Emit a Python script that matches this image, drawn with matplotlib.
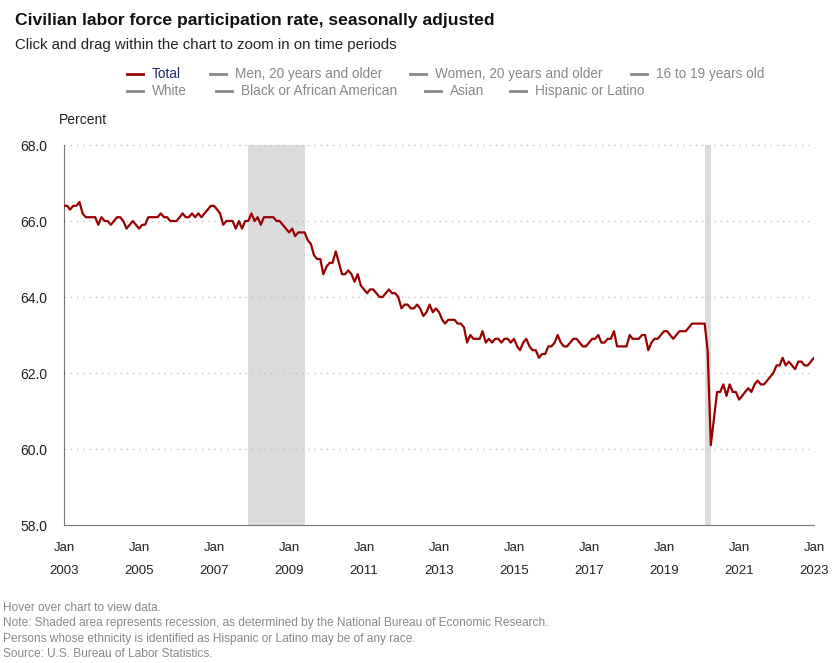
import matplotlib
matplotlib.use('Agg')
import matplotlib.pyplot as plt
import pandas as pd
from matplotlib.lines import Line2D

plt.rcParams['font.family'] = ['Liberation Sans', 'DejaVu Sans']

# monthly rate, Jan 2003 .. Jan 2023
rate_2003 = [66.4, 66.4, 66.3, 66.4, 66.4, 66.5, 66.2, 66.1, 66.1, 66.1, 66.1, 65.9]
rate_2004 = [66.1, 66.0, 66.0, 65.9, 66.0, 66.1, 66.1, 66.0, 65.8, 65.9, 66.0, 65.9]
rate_2005 = [65.8, 65.9, 65.9, 66.1, 66.1, 66.1, 66.1, 66.2, 66.1, 66.1, 66.0, 66.0]
rate_2006 = [66.0, 66.1, 66.2, 66.1, 66.1, 66.2, 66.1, 66.2, 66.1, 66.2, 66.3, 66.4]
rate_2007 = [66.4, 66.3, 66.2, 65.9, 66.0, 66.0, 66.0, 65.8, 66.0, 65.8, 66.0, 66.0]
rate_2008 = [66.2, 66.0, 66.1, 65.9, 66.1, 66.1, 66.1, 66.1, 66.0, 66.0, 65.9, 65.8]
rate_2009 = [65.7, 65.8, 65.6, 65.7, 65.7, 65.7, 65.5, 65.4, 65.1, 65.0, 65.0, 64.6]
rate_2010 = [64.8, 64.9, 64.9, 65.2, 64.9, 64.6, 64.6, 64.7, 64.6, 64.4, 64.6, 64.3]
rate_2011 = [64.2, 64.1, 64.2, 64.2, 64.1, 64.0, 64.0, 64.1, 64.2, 64.1, 64.1, 64.0]
rate_2012 = [63.7, 63.8, 63.8, 63.7, 63.7, 63.8, 63.7, 63.5, 63.6, 63.8, 63.6, 63.7]
rate_2013 = [63.6, 63.4, 63.3, 63.4, 63.4, 63.4, 63.3, 63.3, 63.2, 62.8, 63.0, 62.9]
rate_2014 = [62.9, 62.9, 63.1, 62.8, 62.9, 62.8, 62.9, 62.9, 62.8, 62.9, 62.9, 62.8]
rate_2015 = [62.9, 62.7, 62.6, 62.8, 62.9, 62.7, 62.6, 62.6, 62.4, 62.5, 62.5, 62.7]
rate_2016 = [62.7, 62.8, 63.0, 62.8, 62.7, 62.7, 62.8, 62.9, 62.9, 62.8, 62.7, 62.7]
rate_2017 = [62.8, 62.9, 62.9, 63.0, 62.8, 62.8, 62.9, 62.9, 63.1, 62.7, 62.7, 62.7]
rate_2018 = [62.7, 63.0, 62.9, 62.9, 62.9, 63.0, 63.0, 62.6, 62.8, 62.9, 62.9, 63.0]
rate_2019 = [63.1, 63.1, 63.0, 62.9, 63.0, 63.1, 63.1, 63.1, 63.2, 63.3, 63.3, 63.3]
rate_2020 = [63.3, 63.3, 62.6, 60.1, 60.8, 61.5, 61.5, 61.7, 61.4, 61.7, 61.5, 61.5]
rate_2021 = [61.3, 61.4, 61.5, 61.6, 61.5, 61.7, 61.8, 61.7, 61.7, 61.8, 61.9, 62.0]
rate_2022 = [62.2, 62.2, 62.4, 62.2, 62.3, 62.2, 62.1, 62.3, 62.3, 62.2, 62.2, 62.3]
rate_2023 = [62.4]

total = (rate_2003 + rate_2004 + rate_2005 + rate_2006 + rate_2007 + rate_2008 + rate_2009
         + rate_2010 + rate_2011 + rate_2012 + rate_2013 + rate_2014 + rate_2015 + rate_2016
         + rate_2017 + rate_2018 + rate_2019 + rate_2020 + rate_2021 + rate_2022 + rate_2023)
months = pd.date_range('2003-01-01', '2023-01-01', freq='MS')

recessions = [('2007-12-01', '2009-06-01'), ('2020-02-01', '2020-04-01')]
tick_dates = pd.date_range('2003-01-01', '2023-01-01', freq='24MS')
y_ticks = [58, 60, 62, 64, 66, 68]

legend_row1 = ['Total', 'Men, 20 years and older', 'Women, 20 years and older', '16 to 19 years old']
legend_row2 = ['White', 'Black or African American', 'Asian', 'Hispanic or Latino']

W, H = 832, 663
fig = plt.figure(figsize=(W / 100, H / 100), dpi=100)
ax = fig.add_axes([64 / W, 1 - 525 / H, 750 / W, 380 / H])

for start, end in recessions:
    ax.axvspan(pd.Timestamp(start), pd.Timestamp(end), color='#dcdcdc', lw=0, zorder=0)

ax.plot(months, total, color='#990000', lw=1.6, zorder=3)

ax.set_ylim(58, 68)
ax.set_xlim(months[0], months[-1])
ax.set_yticks(y_ticks)
ax.set_yticklabels([f'{v:.1f}' for v in y_ticks])
for v in y_ticks[1:]:
    ax.axhline(v, color='#bbbbbb', lw=0.9, ls=(0, (1, 4)), zorder=1, clip_on=False)

ax.set_xticks(tick_dates)
ax.set_xticklabels([f'Jan\n\n{d.year}' for d in tick_dates], linespacing=0.95)

for s in ['top', 'right']:
    ax.spines[s].set_visible(False)
ax.spines['left'].set_color('#777777')
ax.spines['bottom'].set_color('#777777')
ax.tick_params(axis='y', length=0, pad=12, labelsize=10, labelcolor='#222222')
ax.tick_params(axis='x', length=0, pad=12, labelsize=9.5, labelcolor='#222222')

fig.text(59 / W, 1 - 120 / H, 'Percent', fontsize=10, color='#222222', va='center')

fig.text(15 / W, 1 - 20 / H, 'Civilian labor force participation rate, seasonally adjusted',
         fontsize=12.6, fontweight='bold', color='#111111', va='center')
fig.text(15 / W, 1 - 45 / H, 'Click and drag within the chart to zoom in on time periods',
         fontsize=10.8, color='#222222', va='center')

# legend, drawn by hand as a flowing two-row list
row1_x = [127, 210, 410, 631]
row2_x = [127, 216, 425, 510]
for row, xs, yy in [(legend_row1, row1_x, 74), (legend_row2, row2_x, 91)]:
    for name, x0 in zip(row, xs):
        col = '#990000' if name == 'Total' else '#888888'
        tcol = '#1a2a6c' if name == 'Total' else '#888888'
        fig.add_artist(Line2D([x0 / W, (x0 + 16) / W], [1 - yy / H, 1 - yy / H],
                              color=col, lw=2, transform=fig.transFigure))
        fig.text((x0 + 25) / W, 1 - yy / H, name, fontsize=9.8, color=tcol, va='center')

notes = ['Hover over chart to view data.',
         'Note: Shaded area represents recession, as determined by the National Bureau of Economic Research.',
         'Persons whose ethnicity is identified as Hispanic or Latino may be of any race.',
         'Source: U.S. Bureau of Labor Statistics.']
for i, t in enumerate(notes):
    fig.text(3 / W, 1 - (608 + 15.3 * i) / H, t, fontsize=8.6, color='#888888', va='center')

fig.savefig('out.png', dpi=100)
